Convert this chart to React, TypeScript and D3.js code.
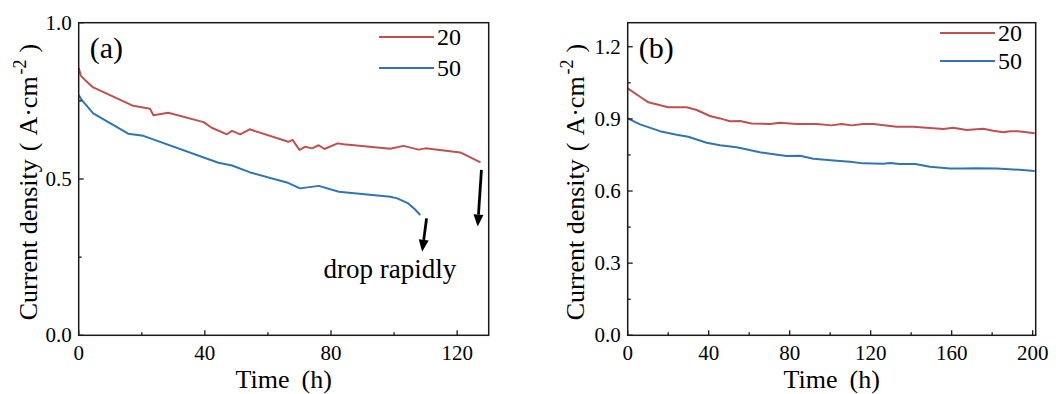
import * as d3 from "d3";
import React from "react";

// panel (a)
const timeA20 = [0, 0.7, 2, 4.6, 17.3, 22.6, 23.7, 28.4, 39.6, 42.2, 47, 48.6, 51.2, 54.2, 66.5, 67.8, 70, 71.8, 74, 76.1, 77.9, 82.1, 84, 98.8, 103, 107.8, 109.9, 121, 127.4];
const densA20 = [0.855, 0.83, 0.817, 0.793, 0.734, 0.725, 0.704, 0.712, 0.682, 0.664, 0.643, 0.654, 0.643, 0.659, 0.619, 0.625, 0.593, 0.603, 0.598, 0.608, 0.596, 0.614, 0.611, 0.597, 0.606, 0.594, 0.598, 0.585, 0.553];
const timeA50 = [0, 0.95, 4.6, 15.7, 20.5, 44.3, 48.6, 54.4, 66, 70.2, 76.1, 82.5, 98.8, 101, 104.5, 106.5, 108.3];
const densA50 = [0.769, 0.753, 0.71, 0.645, 0.638, 0.552, 0.543, 0.521, 0.489, 0.47, 0.478, 0.459, 0.443, 0.438, 0.422, 0.404, 0.385];

// panel (b)
const timeB20 = [0, 6.1, 10.2, 20, 29.1, 34.1, 40.6, 45.6, 50.5, 55.5, 61.2, 70.3, 75.2, 83.5, 93.3, 100.7, 105.7, 110.6, 116.3, 121.3, 132.8, 141, 149.3, 155.9, 160.8, 167.4, 175.6, 180.5, 185.5, 188.8, 193, 201];
const densB20 = [1.027, 0.992, 0.969, 0.948, 0.948, 0.937, 0.912, 0.902, 0.89, 0.891, 0.881, 0.879, 0.884, 0.879, 0.879, 0.873, 0.879, 0.873, 0.879, 0.879, 0.867, 0.867, 0.862, 0.858, 0.863, 0.854, 0.859, 0.851, 0.844, 0.849, 0.849, 0.84];
const timeB50 = [0, 6.1, 15.9, 24.2, 29.9, 39, 45.6, 53.8, 65.3, 70.3, 78.5, 85.1, 91.7, 103.2, 109.8, 116.3, 126.2, 129.5, 134.5, 142, 149.3, 159.2, 165.8, 172, 182.2, 190.4, 201];
const densB50 = [0.902, 0.877, 0.849, 0.834, 0.826, 0.801, 0.79, 0.782, 0.761, 0.755, 0.746, 0.747, 0.734, 0.726, 0.722, 0.715, 0.713, 0.717, 0.712, 0.712, 0.701, 0.694, 0.694, 0.695, 0.694, 0.69, 0.683];

const seriesNames = ["20", "50"];
const colors = ["#c0504d", "#2f75b5"];

const xTicksA = [0, 40, 80, 120];
const xMinorA = [20, 60, 100];
const yTicksA = [0, 0.5, 1.0];
const yMinorA = [0.25, 0.75];
const xTicksB = [0, 40, 80, 120, 160, 200];
const xMinorB = [20, 60, 100, 140, 180];
const yTicksB = [0, 0.3, 0.6, 0.9, 1.2];
const yMinorB = [0.15, 0.45, 0.75, 1.05];

// arrows in panel (a): [t start, j start, t end, j end]
const arrowsA = [
  [110.3, 0.374, 108.9, 0.267],
  [127.7, 0.529, 126.5, 0.348],
];

const FONT = "'Liberation Serif', 'Times New Roman', serif";

const Panel = ({ left, right, top, bottom, xMax, yMax, xTicks, xMinor, yTicks, yMinor, t20, d20, t50, d50, label, legendX, legendY, legendGap, titleX, children }) => {
  const x = d3.scaleLinear().domain([0, xMax]).range([left, right]);
  const y = d3.scaleLinear().domain([0, yMax]).range([bottom, top]);
  const line = d3.line().x((d) => x(d[0])).y((d) => y(d[1]));
  const data = [d3.zip(t20, d20), d3.zip(t50, d50)];
  const fmtY = d3.format(".1f");
  return (
    <g>
      {data.map((pts, i) => (
        <path key={i} d={line(pts)} fill="none" stroke={colors[i]} strokeWidth={2} strokeLinejoin="round" />
      ))}
      <rect x={left} y={top} width={right - left} height={bottom - top} fill="none" stroke="#1a1a1a" strokeWidth={1.5} />
      {xTicks.map((t) => (
        <g key={"x" + t}>
          <line x1={x(t)} x2={x(t)} y1={bottom} y2={bottom - 5} stroke="#1a1a1a" strokeWidth={1.3} />
          <text x={x(t)} y={bottom + 25} textAnchor="middle" fontSize={21} fontFamily={FONT}>{t}</text>
        </g>
      ))}
      {xMinor.map((t) => (
        <line key={"xm" + t} x1={x(t)} x2={x(t)} y1={bottom} y2={bottom - 3} stroke="#1a1a1a" strokeWidth={1.3} />
      ))}
      {yTicks.map((v) => (
        <g key={"y" + v}>
          <line x1={left} x2={left + 5} y1={y(v)} y2={y(v)} stroke="#1a1a1a" strokeWidth={1.3} />
          <text x={left - 7} y={y(v) + 7} textAnchor="end" fontSize={21} fontFamily={FONT}>{fmtY(v)}</text>
        </g>
      ))}
      {yMinor.map((v) => (
        <line key={"ym" + v} x1={left} x2={left + 3} y1={y(v)} y2={y(v)} stroke="#1a1a1a" strokeWidth={1.3} />
      ))}
      <text x={left + 11} y={top + 35} fontSize={30} fontFamily={FONT}>{label}</text>
      {seriesNames.map((s, i) => (
        <g key={s}>
          <line x1={legendX} x2={legendX + 55} y1={legendY + i * legendGap} y2={legendY + i * legendGap} stroke={colors[i]} strokeWidth={2} />
          <text x={legendX + 58} y={legendY + i * legendGap + 8} fontSize={24} fontFamily={FONT}>{s}</text>
        </g>
      ))}
      <text x={(left + right) / 2} y={388} textAnchor="middle" fontSize={26} fontFamily={FONT}>
        <tspan>Time</tspan>
        <tspan dx={12}>(h)</tspan>
      </text>
      <text transform={`translate(${titleX},${(top + bottom) / 2 + 3}) rotate(-90)`} textAnchor="middle" fontSize={26} fontFamily={FONT}>
        <tspan>Current density</tspan>
        <tspan dx={8}>(</tspan>
        <tspan dx={7}>A·cm</tspan>
        <tspan dx={2} dy={-11} fontSize={18}>-2</tspan>
        <tspan dx={7} dy={11}>)</tspan>
      </text>
      {children && children(x, y)}
    </g>
  );
};

const Arrow = ({ x1, y1, x2, y2 }) => {
  const ang = Math.atan2(y2 - y1, x2 - x1);
  const len = 12, half = 5;
  const bx = x2 - len * Math.cos(ang), by = y2 - len * Math.sin(ang);
  const px = -Math.sin(ang) * half, py = Math.cos(ang) * half;
  return (
    <g>
      <line x1={x1} y1={y1} x2={bx} y2={by} stroke="#000" strokeWidth={2.8} />
      <polygon points={`${x2},${y2} ${bx + px},${by + py} ${bx - px},${by - py}`} fill="#000" />
    </g>
  );
};

export default function App() {
  return (
    <svg width={1064} height={394} style={{ position: "absolute", left: 0, top: 0, background: "#fff" }}>
      <Panel left={78.7} right={488.7} top={22.7} bottom={335.3} xMax={130} yMax={1.0}
        xTicks={xTicksA} xMinor={xMinorA} yTicks={yTicksA} yMinor={yMinorA}
        t20={timeA20} d20={densA20} t50={timeA50} d50={densA50}
        label="(a)" legendX={379} legendY={37} legendGap={31} titleX={37}>
        {(x, y) => (
          <g>
            {arrowsA.map((a, i) => (
              <Arrow key={i} x1={x(a[0])} y1={y(a[1])} x2={x(a[2])} y2={y(a[3])} />
            ))}
            <text x={x(77.6)} y={y(0.182)} fontSize={27} fontFamily={FONT}>drop rapidly</text>
          </g>
        )}
      </Panel>
      <Panel left={627.7} right={1035.7} top={22.7} bottom={335.3} xMax={201.5} yMax={1.3}
        xTicks={xTicksB} xMinor={xMinorB} yTicks={yTicksB} yMinor={yMinorB}
        t20={timeB20} d20={densB20} t50={timeB50} d50={densB50}
        label="(b)" legendX={940} legendY={33} legendGap={28} titleX={584} />
    </svg>
  );
}
